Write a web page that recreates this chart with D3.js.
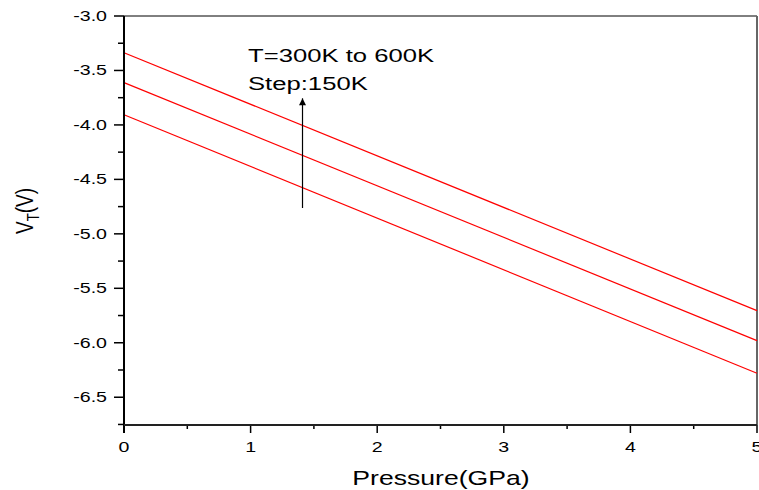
<!DOCTYPE html>
<html>
<head>
<script src="https://d3js.org/d3.v7.min.js"></script>
<style>
  body { margin: 0; background: #fff; }
  text { font-family: "Liberation Sans", Arial, sans-serif; fill: #000; }
</style>
</head>
<body>
<div id="chart"></div>
<script>
// data
var pressure = [0, 5];
var temps = ["300K", "450K", "600K"];
var vt300 = [-3.906, -6.280];
var vt450 = [-3.612, -5.980];
var vt600 = [-3.337, -5.705];
var xTicks = [0, 1, 2, 3, 4, 5];
var yTicks = [-3.0, -3.5, -4.0, -4.5, -5.0, -5.5, -6.0, -6.5];
var arrowP = 1.41, arrowFrom = -4.763, arrowTo = -3.756;

var W = 759, H = 490;
var margin = {left: 124, right: 757, top: 16, bottom: 425};
var sx = 1.4; // the picture is stretched sideways

var svg = d3.select("#chart").append("svg")
  .attr("width", W).attr("height", H);

var x = d3.scaleLinear().domain([0, 5]).range([margin.left, margin.right]);
var y = d3.scaleLinear().domain([-6.755, -3.0]).range([margin.bottom, margin.top]);

// frame: top and right thin
svg.append("line").attr("x1", margin.left).attr("x2", margin.right).attr("y1", margin.top).attr("y2", margin.top)
  .style("stroke", "#000").style("stroke-width", 1);
svg.append("line").attr("x1", margin.right).attr("x2", margin.right).attr("y1", margin.top).attr("y2", margin.bottom)
  .style("stroke", "#666").style("stroke-width", 2);

// series
var series = [vt300, vt450, vt600];
series.forEach(function(s) {
  svg.append("path")
    .datum(s)
    .attr("d", d3.line().x(function(d, i) { return x(pressure[i]); }).y(function(d) { return y(d); }))
    .style("fill", "none")
    .style("stroke", "#ff0000")
    .style("stroke-width", 1.2);
});

// y axis
var yMinor = d3.range(-3.25, -6.8, -0.5);
var yAxis = svg.append("g");
yAxis.selectAll(".maj").data(yTicks).enter().append("line")
  .attr("x1", margin.left - 10).attr("x2", margin.left).attr("y1", function(d) { return y(d); }).attr("y2", function(d) { return y(d); })
  .style("stroke", "#000").style("stroke-width", 1.5);
yAxis.selectAll(".min").data(yMinor).enter().append("line")
  .attr("x1", margin.left - 6).attr("x2", margin.left).attr("y1", function(d) { return y(d); }).attr("y2", function(d) { return y(d); })
  .style("stroke", "#000").style("stroke-width", 1.5);
yAxis.selectAll("text").data(yTicks).enter().append("text")
  .attr("transform", function(d) { return "translate(107," + (y(d) + 5) + ") scale(" + sx + ",1)"; })
  .attr("text-anchor", "end")
  .style("font-size", "14px")
  .text(function(d) { return d.toFixed(1); });
svg.append("line").attr("x1", margin.left).attr("x2", margin.left).attr("y1", margin.top).attr("y2", margin.bottom + 8)
  .style("stroke", "#000").style("stroke-width", 2);

// x axis
var xMinor = d3.range(0.5, 5, 1);
var xAxis = svg.append("g");
xAxis.selectAll(".maj").data(xTicks).enter().append("line")
  .attr("x1", function(d) { return x(d); }).attr("x2", function(d) { return x(d); })
  .attr("y1", margin.bottom).attr("y2", margin.bottom + 8)
  .style("stroke", "#000").style("stroke-width", 1.5);
xAxis.selectAll(".min").data(xMinor).enter().append("line")
  .attr("x1", function(d) { return x(d); }).attr("x2", function(d) { return x(d); })
  .attr("y1", margin.bottom).attr("y2", margin.bottom + 4)
  .style("stroke", "#000").style("stroke-width", 1.5);
xAxis.selectAll("text").data(xTicks).enter().append("text")
  .attr("transform", function(d) { return "translate(" + x(d) + ",452) scale(" + sx + ",1)"; })
  .attr("text-anchor", "middle")
  .style("font-size", "14px")
  .text(function(d) { return d; });
svg.append("line").attr("x1", margin.left).attr("x2", margin.right).attr("y1", margin.bottom).attr("y2", margin.bottom)
  .style("stroke", "#222").style("stroke-width", 2);

// axis titles
svg.append("text")
  .attr("transform", "translate(441,485) scale(1.33,1)")
  .attr("text-anchor", "middle")
  .style("font-size", "20px")
  .text("Pressure(GPa)");

var yl = svg.append("text")
  .attr("transform", "translate(33,211) scale(1.25,1) rotate(-90)")
  .attr("text-anchor", "middle")
  .style("font-size", "19px");
yl.append("tspan").text("V");
yl.append("tspan").attr("dy", 5).style("font-size", "13px").text("T");
yl.append("tspan").attr("dy", -5).text("(V)");

// annotation
svg.append("defs").append("marker")
  .attr("id", "head").attr("viewBox", "0 0 10 10")
  .attr("refX", 10).attr("refY", 5)
  .attr("markerWidth", 12).attr("markerHeight", 7)
  .attr("markerUnits", "userSpaceOnUse")
  .attr("orient", "auto")
  .append("path").attr("d", "M0,0 L10,5 L0,10 Z").style("fill", "#000");
svg.append("line")
  .attr("x1", x(arrowP)).attr("x2", x(arrowP))
  .attr("y1", y(arrowFrom)).attr("y2", y(arrowTo))
  .style("stroke", "#000").style("stroke-width", 1.2)
  .attr("marker-end", "url(#head)");

svg.append("text")
  .attr("transform", "translate(248,62) scale(1.35,1)")
  .style("font-size", "19px")
  .text("T=300K to 600K");
svg.append("text")
  .attr("transform", "translate(248,90) scale(1.35,1)")
  .style("font-size", "19px")
  .text("Step:150K");
</script>
</body>
</html>
